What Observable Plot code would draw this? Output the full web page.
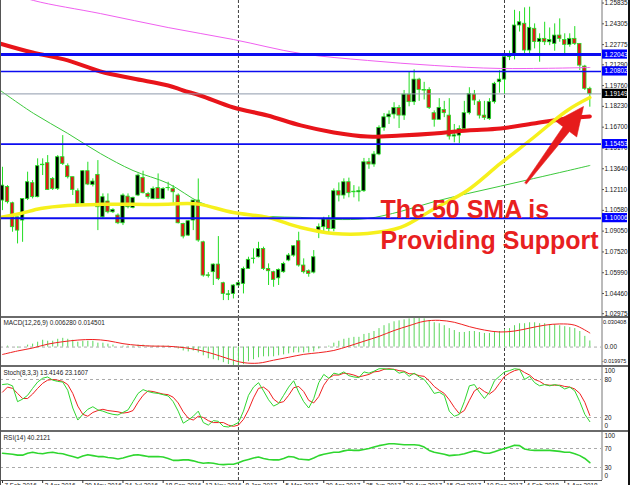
<!DOCTYPE html>
<html><head><meta charset="utf-8">
<script src="https://cdn.jsdelivr.net/npm/d3@7"></script>
<script src="https://cdn.jsdelivr.net/npm/@observablehq/plot@0.6"></script>
<style>
html,body{margin:0;padding:0;background:#fff;overflow:hidden;}
#chart{position:relative;width:630px;height:485px;overflow:hidden;background:#fff;}
.panel{position:absolute;left:0;width:630px;}
.panel svg{display:block;}
.edge{position:absolute;top:0;height:485px;}
</style></head><body><div id="chart"></div>
<script>
// ---------------- DATA (weekly EUR/USD, 7 Feb 2016 .. 6 May 2018) ----------------
const open = [
1.1130,1.1230,1.1110,1.1007,1.0983,1.1142,1.1258,1.1155,1.1390,1.1405,
1.1289,1.1216,1.1449,1.1383,1.1302,1.1199,1.1105,1.1346,1.1245,1.1319,
1.1007,1.1123,1.1044,1.1020,1.0963,1.1159,1.1076,1.1167,1.1297,1.1179,
1.1142,1.1223,1.1142,1.1221,1.1216,1.1167,1.0958,1.0872,1.0983,1.1130,
1.0823,1.0580,1.0603,1.0659,1.0522,1.0436,1.0443,1.0505,1.0517,1.0627,
1.0701,1.0713,1.0774,1.0627,1.0603,1.0558,1.0603,1.0689,1.0725,1.0831,
1.0652,1.0610,1.0600,1.0897,1.0934,1.0995,1.0920,1.1199,1.1167,1.1265,
1.1195,1.1191,1.1199,1.1412,1.1395,1.1469,1.1665,1.1743,1.1763,1.1812,
1.1755,1.1910,1.1854,1.2020,1.1944,1.1944,1.1773,1.1724,1.1797,1.1755,
1.1601,1.1608,1.1657,1.1773,1.1910,1.1854,1.1755,1.1731,1.1854,1.2001,
1.2020,1.2185,1.2209,1.2418,1.2431,1.2234,1.2394,1.2296,1.2320,1.2295,
1.2283,1.2344,1.2312,1.2276,1.2320,1.2283,1.2116,1.1952];
const high = [
1.1375,1.1240,1.1118,1.1007,1.1142,1.1339,1.1277,1.1437,1.1437,1.1461,
1.1300,1.1461,1.1608,1.1400,1.1302,1.1216,1.1351,1.1412,1.1290,1.1424,
1.1179,1.1179,1.1070,1.1032,1.1179,1.1179,1.1155,1.1326,1.1346,1.1190,
1.1230,1.1326,1.1225,1.1265,1.1240,1.1179,1.0963,1.0983,1.1130,1.1289,
1.0831,1.0600,1.0664,1.0865,1.0529,1.0468,1.0512,1.0530,1.0640,1.0713,
1.0774,1.0823,1.0787,1.0664,1.0610,1.0627,1.0676,1.0740,1.0799,1.0897,
1.0701,1.0620,1.0762,1.0958,1.1007,1.1020,1.1216,1.1260,1.1290,1.1295,
1.1240,1.1230,1.1440,1.1440,1.1490,1.1680,1.1770,1.1790,1.1850,1.1830,
1.1940,1.2074,1.2092,1.2030,1.2000,1.1960,1.1790,1.1880,1.1860,1.1880,
1.1690,1.1680,1.1860,1.1960,1.1940,1.1870,1.1860,1.1880,1.2000,1.2085,
1.2200,1.2230,1.2530,1.2520,1.2548,1.2553,1.2430,1.2357,1.2442,1.2400,
1.2430,1.2467,1.2357,1.2357,1.2410,1.2283,1.2125,1.1964];
const low = [
1.1056,1.1105,1.0897,1.0811,1.0823,1.1130,1.1142,1.1150,1.1314,1.1204,
1.1204,1.1204,1.1388,1.1289,1.1167,1.1093,1.1101,1.1240,1.1230,1.0909,
1.0995,1.1032,1.1035,1.0953,1.0946,1.1069,1.1069,1.1159,1.1179,1.1140,
1.1135,1.1140,1.1135,1.1200,1.1105,1.0958,1.0848,1.0865,1.0909,1.0823,
1.0566,1.0560,1.0505,1.0541,1.0394,1.0394,1.0406,1.0500,1.0443,1.0627,
1.0664,1.0708,1.0615,1.0505,1.0492,1.0505,1.0595,1.0680,1.0713,1.0640,
1.0590,1.0566,1.0590,1.0850,1.0897,1.0880,1.0900,1.1120,1.1140,1.1150,
1.1150,1.1120,1.1190,1.1360,1.1375,1.1460,1.1640,1.1690,1.1730,1.1660,
1.1720,1.1820,1.1830,1.1860,1.1870,1.1800,1.1670,1.1720,1.1740,1.1575,
1.1555,1.1550,1.1640,1.1760,1.1830,1.1730,1.1720,1.1720,1.1840,1.1920,
1.1910,1.2160,1.2165,1.2370,1.2197,1.2200,1.2246,1.2148,1.2271,1.2270,
1.2229,1.2295,1.2209,1.2258,1.2271,1.2087,1.1940,1.1817];
const close = [
1.1240,1.1118,1.0934,1.0909,1.1142,1.1265,1.1155,1.1383,1.1394,1.1208,
1.1216,1.1449,1.1400,1.1302,1.1208,1.1105,1.1346,1.1248,1.1270,1.1081,
1.1155,1.1044,1.1061,1.0963,1.1167,1.1081,1.1150,1.1314,1.1184,1.1155,
1.1216,1.1142,1.1216,1.1222,1.1191,1.0963,1.0865,1.0978,1.1130,1.0836,
1.0578,1.0575,1.0659,1.0553,1.0443,1.0440,1.0505,1.0522,1.0627,1.0694,
1.0703,1.0774,1.0627,1.0610,1.0546,1.0620,1.0664,1.0725,1.0794,1.0652,
1.0603,1.0590,1.0713,1.0934,1.0995,1.0920,1.1199,1.1167,1.1265,1.1184,
1.1191,1.1199,1.1412,1.1395,1.1469,1.1665,1.1743,1.1763,1.1812,1.1755,
1.1910,1.1854,1.2020,1.1944,1.1939,1.1812,1.1724,1.1812,1.1773,1.1601,
1.1610,1.1657,1.1773,1.1915,1.1866,1.1755,1.1738,1.1854,1.1989,1.2020,
1.2185,1.2204,1.2418,1.2442,1.2234,1.2401,1.2296,1.2320,1.2295,1.2312,
1.2344,1.2320,1.2276,1.2320,1.2283,1.2123,1.1952,1.1915];

// moving averages: [bar, price]
const maPink   = [[-0.4,1.2683],[6.2,1.2602],[19.5,1.2506],[33,1.2403],[46,1.2315],[59.4,1.2212],[72.7,1.2161],[86,1.2124],[99.2,1.2102],[117,1.2109]];
const maGreen  = [[-0.4,1.1939],[6.2,1.1771],[13,1.1624],[19.5,1.1476],[26,1.1351],[33,1.1256],[39.4,1.1116],[46,1.1042],[52.8,1.1013],[59.4,1.1006],[66,1.0991],[72.7,1.0998],[79.3,1.1050],[86,1.1122],[92.6,1.1181],[99.2,1.1236],[105.8,1.1292],[112.5,1.1349],[117,1.1388]];
const maRed    = [[-0.4,1.2284],[6,1.2219],[13,1.2161],[19.5,1.2080],[26,1.2028],[33,1.1977],[36,1.1940],[39.4,1.1903],[46,1.1815],[52.8,1.1756],[59.4,1.1683],[66,1.1631],[72.7,1.1601],[79.3,1.1609],[86,1.1624],[92.6,1.1646],[99.2,1.1660],[105.8,1.1697],[112.5,1.1734],[117,1.1749]];
const maYellow = [[-0.4,1.1006],[3.6,1.1035],[7.6,1.1072],[13,1.1094],[19.5,1.1102],[26,1.1102],[33,1.1102],[36.9,1.1109],[39.4,1.1102],[46,1.1042],[52.8,1.1006],[59.4,1.0932],[66,1.0888],[72.7,1.0888],[79.3,1.0932],[86,1.1070],[92.6,1.1204],[99.2,1.1403],[105.8,1.1594],[112.5,1.1793],[117,1.1888]];

// horizontal lines and current price
const levelValues = [1.22043, 1.20802, 1.19149, 1.15453, 1.10006];
const priceTicks = [1.25835,1.24305,1.22775,1.21290,1.19760,1.18230,1.16700,1.15170,1.13640,1.12110,1.10580,1.09050,1.07520,1.05990,1.04460,1.02975];

// MACD(12,26,9)
const macd = [
0.000,0.001,0.000,-0.001,0.000,0.002,0.003,0.005,0.007,0.006,
0.006,0.008,0.009,0.008,0.007,0.005,0.006,0.006,0.006,0.004,
0.004,0.003,0.002,0.000,0.001,0.001,0.001,0.002,0.002,0.001,
0.001,0.001,0.001,0.001,0.000,-0.002,-0.004,-0.005,-0.004,-0.006,
-0.009,-0.012,-0.013,-0.014,-0.016,-0.018,-0.019,-0.020,-0.018,-0.015,
-0.013,-0.011,-0.010,-0.010,-0.010,-0.009,-0.008,-0.007,-0.006,-0.006,
-0.006,-0.006,-0.005,-0.002,0.000,0.001,0.004,0.006,0.008,0.009,
0.010,0.010,0.013,0.014,0.016,0.019,0.022,0.024,0.026,0.027,
0.028,0.029,0.030,0.030,0.029,0.027,0.025,0.024,0.022,0.019,
0.017,0.015,0.015,0.016,0.016,0.015,0.014,0.014,0.015,0.016,
0.018,0.019,0.022,0.024,0.024,0.025,0.025,0.024,0.024,0.023,
0.023,0.022,0.021,0.020,0.019,0.016,0.011,0.00628];
const macdSignal = [[0,-0.0076],[3,-0.004],[6,-0.001],[9,0.003],[12,0.0055],[15,0.0072],[18,0.0078],[21,0.0065],[24,0.0035],[27,0.0018],[30,0.0010],[33,0.0008],[36,-0.0005],[39,-0.003],[42,-0.007],[45,-0.012],[48,-0.016],[51,-0.0165],[54,-0.0135],[57,-0.0105],[60,-0.0075],[63,-0.0058],[66,-0.0035],[69,0.001],[72,0.006],[75,0.011],[78,0.017],[81,0.022],[84,0.0265],[87,0.0275],[90,0.0255],[93,0.021],[96,0.0175],[99,0.0155],[102,0.0165],[105,0.0195],[108,0.0225],[111,0.0238],[114,0.0225],[117,0.014501]];
const macdRange = [-0.019975, 0.030408];

// Stochastic(8,3,3)
const stochK = [72,73,70,45,49,55,66,76,82,84, 79,77,76,63,35,16,25,33,37,32, 30,27,25,24,28,32,45,58,64,61, 59,58,56,54,45,30,11,16,22,30, 12,8,15,14,6,5,8,12,30,55, 68,75,62,48,38,42,55,68,78,60, 45,35,50,75,88,82,90,88,92,86, 84,83,92,90,93,97,97,96,96,90, 92,85,90,84,80,70,58,60,55,30, 22,25,45,70,72,60,50,60,78,85, 92,94,97,96,80,85,75,70,72,70, 72,70,65,68,62,45,25,13.4146];
const stochD = [60,68,66,58,50,50,57,66,74,79, 80,79,77,72,58,38,25,22,28,31, 33,31,30,29,27,28,31,44,55,62, 61,59,57,56,52,43,29,19,16,22, 20,15,12,12,12,8,6,8,17,32, 51,66,68,62,49,43,45,55,67,69, 61,47,43,53,71,82,87,87,90,89, 87,84,86,88,92,93,96,97,96,94, 93,89,89,86,85,78,69,63,58,48, 36,26,31,47,62,67,61,57,63,74, 85,90,94,96,91,87,80,77,72,71, 71,71,69,68,65,58,44,23.1607];

// RSI(14)
const rsi = [60,59,58,56,56,60,62,60,59,61, 62,60,59,56,53,50,54,57,55,53, 53,51,50,48,50,53,56,57,55,53, 53,53,52,49,45,45,46,46,44,41, 39,40,39,37,36,37,37,40,44,47, 50,52,49,47,46,46,49,53,52,48, 47,46,50,55,58,60,62,62,65,67, 66,66,68,70,73,76,78,80,80,79, 78,78,78,77,73,66,62,60,58,55, 56,57,59,62,65,63,60,60,63,67, 70,73,77,76,69,67,66,66,66,66, 65,64,62,62,59,55,49,40.2121];

// time axis
const yearStartBars = [47, 100];
const dateTickBars = [0,8,16,24,32,40,48,56,64,72,80,88,96,104,112];
const dateTickLabels = ["7 Feb 2016","3 Apr 2016","29 May 2016","24 Jul 2016","18 Sep 2016","13 Nov 2016","8 Jan 2017","5 Mar 2017","30 Apr 2017","25 Jun 2017","20 Aug 2017","15 Oct 2017","10 Dec 2017","4 Feb 2018","1 Apr 2018"];

// annotation
const annotLines = ["The 50 SMA is", "Providing Support"];
const annotAnchor = [[75.3, 1.1057], [75.3, 1.0836]];
const arrowShape = [[104.34,1.12511],[112.95,1.16382],[114.38,1.15985],[115.74,1.18222],[110.24,1.17133],[111.67,1.16735],[104.02,1.1260]];

// ---------------- LAYOUT ----------------
const W = 630, AXIS_X = 601, STEP = 5.02, X0 = 2;
const FONT = "'Liberation Sans', Arial, sans-serif";
const xOpt = {type: "linear", domain: [-X0 / STEP, (W - X0) / STEP], range: [0, W], axis: null};
const AXIS_BAR = (AXIS_X + 0.5 - X0) / STEP;
const idx = d3.range(open.length);
const bull = idx.filter(i => close[i] >= open[i]);
const bear = idx.filter(i => close[i] < open[i]);

const LIME = "#22dd22", BEAR_FILL = "#e01818", BLUE = "#0c0cf0", RED = "#e61c1c";
const SMALL = 6.4;

const chart = document.getElementById("chart");
function addPanel(top, h, border, yopt, marks) {
  const div = document.createElement("div");
  div.className = "panel";
  div.style.top = top + "px";
  if (border) div.style.borderTop = border + "px solid #6a6a6a";
  const svg = Plot.plot({
    width: W, height: h,
    marginTop: 0, marginBottom: 0, marginLeft: 0, marginRight: 0,
    x: xOpt, y: {...yopt, axis: null},
    style: {background: "transparent", fontFamily: FONT, overflow: "hidden"},
    marks
  });
  div.appendChild(svg);
  chart.appendChild(div);
}
const common = () => [
  Plot.ruleX(yearStartBars, {x: d => d, stroke: "#404040", strokeDasharray: "3,2", strokeWidth: 1}),
  Plot.ruleX([AXIS_BAR], {x: d => d, stroke: "#777", strokeWidth: 1})
];
const sideLabel = (vals, fmt, opts = {}) => Plot.text(vals, {y: d => d, text: fmt, frameAnchor: "left", dx: AXIS_X + 3, textAnchor: "start", fontSize: SMALL, fill: "#111", ...opts});
const levelLine = (vals) => Plot.ruleY(vals, {y: d => d, stroke: "#aaa", strokeDasharray: "3,3", strokeWidth: 1, insetRight: W - AXIS_X});

// ---------------- MAIN PRICE PANEL ----------------
const mainH = 316, pTop = 1.26021, pBot = 1.02769;
const pxPrice = (pTop - pBot) / mainH;
const BOXH = 4.6 * pxPrice;
const BW = 0.34;
const levelStyle = [{c: BLUE, w: 3}, {c: BLUE, w: 1.4}, {c: "#8e9aab", w: 1}, {c: BLUE, w: 1.8}, {c: BLUE, w: 2}];
const boxColor = ["#0000ff", "#0000ff", "#000000", "#0000ff", "#0000ff"];

addPanel(0, mainH, 0, {domain: [pBot, pTop], range: [mainH, 0]}, [
  ...common(),
  Plot.ruleX(idx, {x: i => i, y1: i => low[i], y2: i => high[i], stroke: LIME, strokeWidth: 1}),
  Plot.rect(bull, {x1: i => i - BW, x2: i => i + BW, y1: i => open[i], y2: i => close[i], fill: "#000", stroke: LIME, strokeWidth: 0.8}),
  Plot.rect(bear, {x1: i => i - BW, x2: i => i + BW, y1: i => open[i], y2: i => close[i], fill: BEAR_FILL, stroke: LIME, strokeWidth: 0.8}),
  Plot.line(maPink, {x: d => d[0], y: d => d[1], stroke: "#f060f0", strokeWidth: 1, curve: "catmull-rom"}),
  Plot.line(maGreen, {x: d => d[0], y: d => d[1], stroke: "#3cc93c", strokeWidth: 1, curve: "catmull-rom"}),
  Plot.line(maRed, {x: d => d[0], y: d => d[1], stroke: "#e8141a", strokeWidth: 4, curve: "catmull-rom"}),
  Plot.line(maYellow, {x: d => d[0], y: d => d[1], stroke: "#f6f01c", strokeWidth: 3.5, curve: "catmull-rom"}),
  ...levelValues.map((v, i) => Plot.ruleY([v], {y: d => d, stroke: levelStyle[i].c, strokeWidth: levelStyle[i].w, insetRight: W - AXIS_X})),
  Plot.ruleY(priceTicks, {y: d => d, insetLeft: AXIS_X + 1, insetRight: W - AXIS_X - 3, stroke: "#555"}),
  sideLabel(priceTicks, d => d.toFixed(5)),
  ...levelValues.map((v, i) => Plot.rect([v], {y1: d => d - BOXH, y2: d => d + BOXH, fill: boxColor[i], insetLeft: AXIS_X + 1, insetRight: 3})),
  sideLabel(levelValues, d => d.toFixed(5), {fill: "#fff"}),
  Plot.line(arrowShape, {x: d => d[0], y: d => d[1], fill: RED, stroke: RED, strokeWidth: 0.6}),
  Plot.text(annotLines, {x: (d, i) => annotAnchor[i][0], y: (d, i) => annotAnchor[i][1], text: d => d, textAnchor: "start", lineAnchor: "middle", fontSize: 25, fontWeight: "bold", fill: "#e8201f", fontFamily: FONT})
]);

// ---------------- MACD PANEL ----------------
addPanel(316, 47, 2, {domain: macdRange, range: [48, -1]}, [
  ...common(),
  levelLine([0]),
  Plot.ruleX(idx, {x: i => i, y1: 0, y2: i => macd[i], stroke: "#5ad65a", strokeWidth: 1}),
  Plot.line(macdSignal, {x: d => d[0], y: d => d[1], stroke: "#f02020", strokeWidth: 1, curve: "catmull-rom"}),
  Plot.text(["MACD(12,26,9) 0.006280 0.014501"], {frameAnchor: "top-left", dx: 3, dy: 1.5, text: d => d, fontSize: SMALL, fill: "#222"}),
  sideLabel([macdRange[1]], d => d.toFixed(6), {dy: 5, dx: AXIS_X + 1.5, fontSize: 5.6}),
  sideLabel([0], () => "0.00"),
  sideLabel([macdRange[0]], d => d.toFixed(6), {dy: -5, dx: AXIS_X + 0.5, fontSize: 5.4})
]);

// ---------------- STOCHASTIC PANEL ----------------
addPanel(365, 63, 2, {domain: [0, 100], range: [62.67, -0.67]}, [
  ...common(),
  levelLine([80, 20]),
  Plot.line(idx, {x: i => i, y: i => stochD[i], stroke: "#f02020", strokeWidth: 1}),
  Plot.line(idx, {x: i => i, y: i => stochK[i], stroke: "#2fd62f", strokeWidth: 1}),
  Plot.text(["Stoch(8,3,3) 13.4146 23.1607"], {frameAnchor: "top-left", dx: 3, dy: 2.5, text: d => d, fontSize: SMALL, fill: "#222"}),
  sideLabel([100], d => String(d), {dy: 4.5}),
  sideLabel([80, 20], d => String(d)),
  sideLabel([0], d => String(d), {dy: -4.5})
]);

// ---------------- RSI PANEL ----------------
addPanel(430, 48, 2, {domain: [0, 100], range: [49.25, 1.75]}, [
  ...common(),
  levelLine([70, 30]),
  Plot.line(idx, {x: i => i, y: i => rsi[i], stroke: "#2fd62f", strokeWidth: 1.6}),
  Plot.text(["RSI(14) 40.2121"], {frameAnchor: "top-left", dx: 3, dy: 2.5, text: d => d, fontSize: SMALL, fill: "#222"}),
  sideLabel([100], d => String(d), {dy: 1.5}),
  sideLabel([70, 30], d => String(d)),
  sideLabel([0], d => String(d), {dy: -6})
]);

// ---------------- DATE AXIS ----------------
addPanel(479, 12, 0, {domain: [0, 12], range: [0, 12]}, [
  Plot.ruleY([1], {y: d => d, stroke: "#555", strokeWidth: 1, insetRight: W - AXIS_X - 1}),
  Plot.ruleX(dateTickBars, {x: d => d, y1: 1, y2: 4, stroke: "#333"}),
  Plot.text(dateTickBars, {x: d => d, y: 3.8, text: (d, i) => dateTickLabels[i], dx: 2, textAnchor: "start", lineAnchor: "top", fontSize: SMALL, fill: "#222"})
]);

// window edges
const l = document.createElement("div"); l.className = "edge"; l.style.left = "0px"; l.style.width = "1px"; l.style.background = "#555"; chart.appendChild(l);
const r = document.createElement("div"); r.className = "edge"; r.style.left = "628px"; r.style.width = "2px"; r.style.background = "#111"; chart.appendChild(r);
</script>
</body></html>
